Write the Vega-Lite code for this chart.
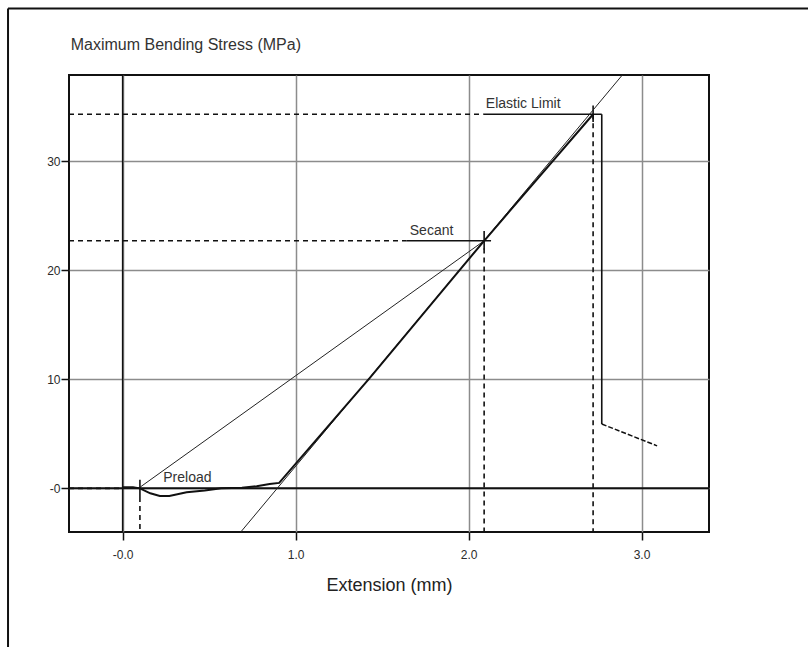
{
  "$schema": "https://vega.github.io/schema/vega-lite/v6.json",
  "autosize": {"type": "none"},
  "width": 640,
  "height": 457,
  "padding": {"left": 69, "top": 75, "right": 99, "bottom": 115},
  "background": "white",
  "config": {
    "view": {"stroke": "#111111", "strokeWidth": 2},
    "axis": {
      "labelFont": "Liberation Sans, Arial",
      "labelFontSize": 12,
      "labelColor": "#2a2a2a",
      "titleFont": "Liberation Sans, Arial",
      "titleFontWeight": "normal",
      "titleColor": "#222222",
      "domain": false,
      "tickColor": "#111111",
      "tickSize": 8,
      "tickWidth": 1.5,
      "gridColor": "#8c8c8c",
      "gridWidth": 1.5,
      "gridOpacity": 1
    }
  },
  "datasets": {
    "dashed": [
      {"x": -0.31, "x2": 2.086, "y": 34.3, "y2": 34.3},
      {"x": -0.31, "x2": 1.64, "y": 22.7, "y2": 22.7},
      {"x": -0.31, "x2": 0.0, "y": 0.0, "y2": 0.0},
      {"x": 2.72, "x2": 2.72, "y": 34.3, "y2": -4.0},
      {"x": 2.09, "x2": 2.09, "y": 22.0, "y2": -4.0},
      {"x": 0.10, "x2": 0.10, "y": -0.8, "y2": -4.0}
    ],
    "solid": [
      {"x": 2.086, "x2": 2.77, "y": 34.3, "y2": 34.3},
      {"x": 1.64, "x2": 2.13, "y": 22.7, "y2": 22.7},
      {"x": 2.72, "x2": 2.72, "y": 33.6, "y2": 35.1},
      {"x": 2.09, "x2": 2.09, "y": 21.9, "y2": 23.6},
      {"x": 0.10, "x2": 0.10, "y": -0.8, "y2": 0.8},
      {"x": 2.77, "x2": 2.77, "y": 34.3, "y2": 5.9}
    ],
    "zeroLines": [
      {"x": 0.0, "x2": 0.0, "y": -4.0, "y2": 37.9, "w": 1.5},
      {"x": -0.31, "x2": 3.39, "y": 0.0, "y2": 0.0, "w": 2}
    ],
    "frame": [
      {"x": -0.6625, "x2": -0.6625, "y": 44.0, "y2": -15.7},
      {"x": -0.6625, "x2": 4.05, "y": 44.0, "y2": 44.0}
    ],
    "thin": [
      {"series": "tangent", "order": 1, "x": 0.683, "y": -4.0},
      {"series": "tangent", "order": 2, "x": 2.889, "y": 37.9},
      {"series": "secant", "order": 1, "x": 0.10, "y": 0.1},
      {"series": "secant", "order": 2, "x": 2.09, "y": 22.7}
    ],
    "curve": [
      {"order": 1, "x": 0.0, "y": 0.1},
      {"order": 2, "x": 0.06, "y": 0.1},
      {"order": 3, "x": 0.10, "y": 0.0},
      {"order": 4, "x": 0.16, "y": -0.45},
      {"order": 5, "x": 0.215, "y": -0.7},
      {"order": 6, "x": 0.27, "y": -0.7},
      {"order": 7, "x": 0.37, "y": -0.35},
      {"order": 8, "x": 0.475, "y": -0.2},
      {"order": 9, "x": 0.57, "y": 0.0},
      {"order": 10, "x": 0.69, "y": 0.05},
      {"order": 11, "x": 0.775, "y": 0.2},
      {"order": 12, "x": 0.85, "y": 0.4},
      {"order": 13, "x": 0.905, "y": 0.5},
      {"order": 14, "x": 1.428, "y": 10.1},
      {"order": 15, "x": 1.90, "y": 19.1},
      {"order": 16, "x": 2.09, "y": 22.7},
      {"order": 17, "x": 2.72, "y": 34.3}
    ],
    "post": [
      {"order": 1, "x": 2.77, "y": 5.9},
      {"order": 2, "x": 3.09, "y": 3.9}
    ],
    "labels": [
      {"x": 2.10, "y": 34.3, "label": "Elastic Limit"},
      {"x": 1.66, "y": 22.7, "label": "Secant"},
      {"x": 0.235, "y": 0.0, "label": "Preload"}
    ],
    "title": [
      {"x": -0.30, "y": 40.65, "label": "Maximum Bending Stress (MPa)"}
    ]
  },
  "layer": [
    {
      "data": {"name": "zeroLines"},
      "mark": {"type": "rule", "color": "#111111"},
      "encoding": {
        "x": {
          "field": "x", "type": "quantitative",
          "scale": {"domain": [-0.31, 3.39], "nice": false, "zero": false},
          "axis": {
            "values": [0, 1, 2, 3],
            "title": "Extension (mm)",
            "titleFontSize": 18,
            "titlePadding": 16,
            "labelPadding": 9,
            "labelExpr": "datum.value == 0 ? '-0.0' : format(datum.value, '.1f')"
          }
        },
        "x2": {"field": "x2"},
        "y": {
          "field": "y", "type": "quantitative",
          "scale": {"domain": [-4.0, 37.9], "nice": false, "zero": false},
          "axis": {
            "values": [0, 10, 20, 30],
            "title": null,
            "labelPadding": 1,
            "labelExpr": "datum.value == 0 ? '-0' : format(datum.value, 'd')"
          }
        },
        "y2": {"field": "y2"},
        "strokeWidth": {"field": "w", "type": "quantitative", "scale": null}
      }
    },
    {
      "data": {"name": "frame"},
      "mark": {"type": "rule", "color": "#111111", "strokeWidth": 2, "clip": false},
      "encoding": {
        "x": {"field": "x", "type": "quantitative"},
        "x2": {"field": "x2"},
        "y": {"field": "y", "type": "quantitative"},
        "y2": {"field": "y2"}
      }
    },
    {
      "data": {"name": "dashed"},
      "mark": {"type": "rule", "color": "#111111", "strokeWidth": 1.6, "strokeDash": [5, 4]},
      "encoding": {
        "x": {"field": "x", "type": "quantitative"},
        "x2": {"field": "x2"},
        "y": {"field": "y", "type": "quantitative"},
        "y2": {"field": "y2"}
      }
    },
    {
      "data": {"name": "solid"},
      "mark": {"type": "rule", "color": "#111111", "strokeWidth": 1.6},
      "encoding": {
        "x": {"field": "x", "type": "quantitative"},
        "x2": {"field": "x2"},
        "y": {"field": "y", "type": "quantitative"},
        "y2": {"field": "y2"}
      }
    },
    {
      "data": {"name": "thin"},
      "mark": {"type": "line", "color": "#222222", "strokeWidth": 1},
      "encoding": {
        "x": {"field": "x", "type": "quantitative"},
        "y": {"field": "y", "type": "quantitative"},
        "detail": {"field": "series"},
        "order": {"field": "order"}
      }
    },
    {
      "data": {"name": "curve"},
      "mark": {"type": "line", "color": "#111111", "strokeWidth": 2},
      "encoding": {
        "x": {"field": "x", "type": "quantitative"},
        "y": {"field": "y", "type": "quantitative"},
        "order": {"field": "order"}
      }
    },
    {
      "data": {"name": "post"},
      "mark": {"type": "line", "color": "#111111", "strokeWidth": 1.5, "strokeDash": [5, 2]},
      "encoding": {
        "x": {"field": "x", "type": "quantitative"},
        "y": {"field": "y", "type": "quantitative"},
        "order": {"field": "order"}
      }
    },
    {
      "data": {"name": "labels"},
      "mark": {"type": "text", "align": "left", "baseline": "bottom", "dy": -3, "fontSize": 14, "font": "Liberation Sans, Arial", "color": "#333333"},
      "encoding": {
        "x": {"field": "x", "type": "quantitative"},
        "y": {"field": "y", "type": "quantitative"},
        "text": {"field": "label"}
      }
    },
    {
      "data": {"name": "title"},
      "mark": {"type": "text", "align": "left", "baseline": "middle", "fontSize": 16, "font": "Liberation Sans, Arial", "color": "#333333", "clip": false},
      "encoding": {
        "x": {"field": "x", "type": "quantitative"},
        "y": {"field": "y", "type": "quantitative"},
        "text": {"field": "label"}
      }
    }
  ]
}
